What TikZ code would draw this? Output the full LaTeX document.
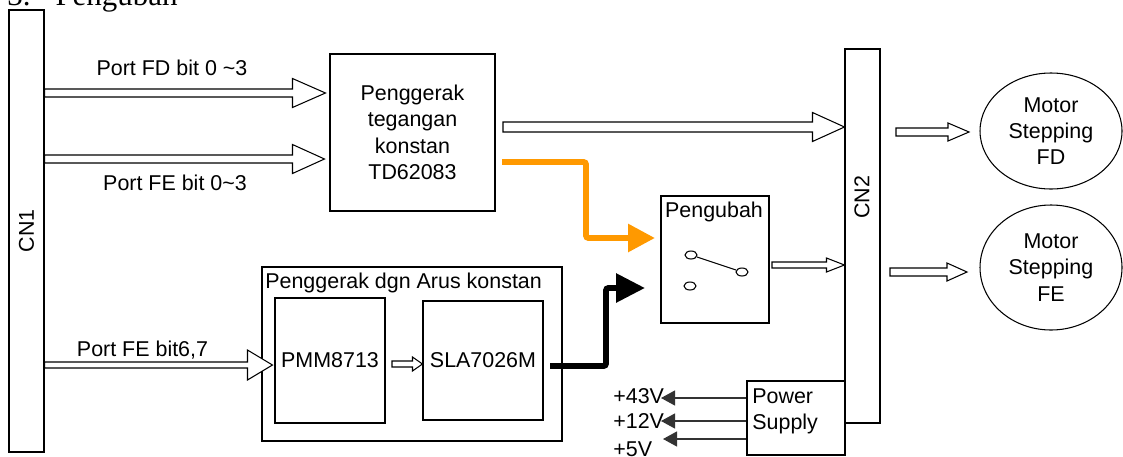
\documentclass[tikz,border=0pt]{standalone}
\usepackage{fontspec}
\setmainfont{Liberation Sans}
\newfontfamily\titlefont{Liberation Serif}
\usepackage{xcolor}
\usepackage{tikz}
\usetikzlibrary{arrows.meta, calc, shapes.geometric}

\definecolor{orangeline}{RGB}{255,153,0}

\newcommand{\blockarrow}[5]{%
  \draw[hollow] let \p1=(#1), \p2=(#2) in
    (\x1,\y2+#3) -- (\x2-#5,\y2+#3) -- (\x2-#5,\y2+#4) -- (\x2,\y2)
    -- (\x2-#5,\y2-#4) -- (\x2-#5,\y2-#3) -- (\x1,\y2-#3) -- cycle;}

\begin{document}
\begin{tikzpicture}[
    font=\fontsize{12.2}{15}\selectfont,
    every node/.style={inner sep=0pt},
    box/.style={draw, line width=0.6pt, rectangle, align=center},
    motor/.style={draw, line width=0.6pt, ellipse, minimum width=2.84cm, minimum height=2.32cm, align=center},
    contact/.style={draw, line width=0.6pt, ellipse, minimum width=0.24cm, minimum height=0.16cm},
    hollow/.style={draw, line width=0.6pt, fill=white},
    fat/.style={line width=3.4pt, rounded corners=1.5pt},
    power/.style={draw=black!80, line width=0.7pt, -{Triangle[length=0.28cm, width=0.30cm]}}
]
\useasboundingbox (0,0) rectangle (22.46,-9.12);
\node[anchor=base west, font=\titlefont\fontsize{17.6}{20}\selectfont] (title) at (0.14,-0.10) {3.\hspace{0.5cm}Pengubah};

\node[box, minimum width=0.70cm, minimum height=8.84cm, label={[rotate=90]center:CN1}] (cn1) at (0.53,-4.62) {};
\node[box, minimum width=0.70cm, minimum height=7.48cm] (cn2) at (17.25,-4.72) {};
\node[rotate=90] (cn2label) at (17.24,-3.95) {CN2};
\node[box, minimum width=3.30cm, minimum height=3.14cm] (td) at (8.25,-2.65) {Penggerak\\tegangan\\konstan\\TD62083};
\node[box, minimum width=2.16cm, minimum height=2.54cm] (peng) at (14.30,-5.19) {};
\node[anchor=base] (penglabel) at (14.28,-4.34) {Pengubah};
\node[contact] (c1) at (13.82,-5.10) {};
\node[contact] (c2) at (14.84,-5.44) {};
\node[contact] (c3) at (13.80,-5.72) {};
\draw[line width=0.6pt] (c1) -- (c2);

\node[box, minimum width=6.00cm, minimum height=3.48cm] (arus) at (8.24,-7.08) {};
\node[anchor=base west] (aruslabel) at (5.30,-5.76) {Penggerak dgn Arus konstan};
\node[box, minimum width=2.20cm, minimum height=2.50cm] (pmm) at (6.60,-7.21) {PMM8713};
\node[box, minimum width=2.40cm, minimum height=2.38cm] (sla) at (9.66,-7.21) {SLA7026M};

\node[box, minimum width=1.96cm, minimum height=1.48cm] (ps) at (15.92,-8.36) {};
\node[anchor=north west, align=left] (pslabel) at (15.04,-7.76) {Power\\Supply};

\node[motor] (fd) at (21.02,-2.62) {Motor\\Stepping\\FD};
\node[motor, minimum height=2.50cm] (fe) at (21.02,-5.35) {Motor\\Stepping\\FE};

\node (fdlabel) at (3.44,-1.36) {Port FD bit 0 \textasciitilde3};
\node[anchor=base] (felabel) at (3.50,-3.80) {Port FE bit 0\textasciitilde3};
\node[anchor=base] (fe67label) at (2.85,-7.13) {Port FE bit6,7};

\coordinate (fdin) at ([xshift=-0.08cm, yshift=0.79cm]td.west);
\coordinate (fein) at ([xshift=-0.10cm, yshift=-0.53cm]td.west);
\coordinate (pmmin) at ([xshift=-0.04cm, yshift=-0.09cm]pmm.west);
\coordinate (tdout) at (10.06,-2.54);
\coordinate (pmmout) at (7.84,-7.28);
\coordinate (pengout) at (15.44,-5.30);
\coordinate (fdout) at (17.92,-2.64);
\coordinate (fdhead) at (19.38,-2.64);
\coordinate (feout) at (17.80,-5.44);
\coordinate (fehead) at (19.34,-5.44);

\blockarrow{cn1.east |- fdin}{fdin}{0.08cm}{0.29cm}{0.66cm}
\blockarrow{cn1.east |- fein}{fein}{0.08cm}{0.29cm}{0.64cm}
\blockarrow{tdout}{cn2.west |- tdout}{0.10cm}{0.29cm}{0.64cm}
\blockarrow{cn1.east |- pmmin}{pmmin}{0.06cm}{0.30cm}{0.50cm}
\blockarrow{pmmout}{sla.west |- pmmout}{0.06cm}{0.14cm}{0.20cm}
\blockarrow{pengout}{cn2.west |- pengout}{0.06cm}{0.14cm}{0.36cm}
\blockarrow{fdout}{fdhead}{0.08cm}{0.18cm}{0.42cm}
\blockarrow{feout}{fehead}{0.08cm}{0.18cm}{0.40cm}

\coordinate (tdorange) at (10.04,-3.24);
\coordinate (orangein) at (13.10,-4.76);
\draw[fat, draw=orangeline, -{Triangle[length=0.54cm, width=0.54cm]}] (tdorange) -- ++(1.68,0) |- (orangein);
\coordinate (slaout) at (11.00,-7.32);
\coordinate (blackin) at (12.90,-5.76);
\draw[fat, -{Triangle[length=0.58cm, width=0.56cm]}] (slaout) -- ++(1.12,0) |- (blackin);

\coordinate (v43) at (13.22,-7.96);
\coordinate (v12) at (13.22,-8.42);
\coordinate (v5) at (13.26,-8.78);
\draw[power] (ps.west |- v43) -- (v43);
\draw[power] (ps.west |- v12) -- (v12);
\draw[power] (ps.west |- v5) -- (v5);
\node[anchor=west] (l43) at (12.26,-7.92) {+43V};
\node[anchor=west] (l12) at (12.26,-8.43) {+12V};
\node[anchor=west] (l5) at (12.26,-8.98) {+5V};
\end{tikzpicture}
\end{document}
